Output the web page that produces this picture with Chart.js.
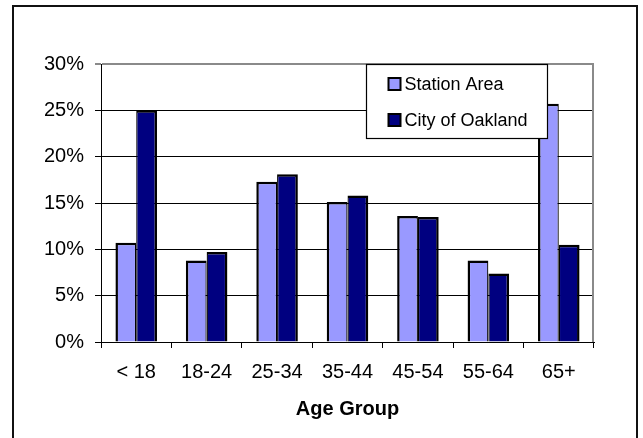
<!DOCTYPE html>
<html>
<head>
<meta charset="utf-8">
<script src="https://cdn.jsdelivr.net/npm/chart.js@4/dist/chart.umd.min.js"></script>
<style>
  html, body { margin: 0; padding: 0; background: #fff; overflow: hidden; }
  #wrap { position: relative; width: 643px; height: 438px; }
  #chart { position: absolute; left: 0; top: 0; display: block; }
  #frame {
    position: absolute; left: 12px; top: 5px; width: 622px; height: 460px;
    border: 2px solid #111; pointer-events: none;
  }
</style>
</head>
<body>
<div id="wrap">
  <canvas id="chart" width="643" height="438"></canvas>
  <div id="frame"></div>
</div>
<script>
// Share of residents by age group
const ageGroups = ['< 18', '18-24', '25-34', '35-44', '45-54', '55-64', '65+'];
const stationArea = [10.7, 8.8, 17.3, 15.1, 13.6, 8.8, 25.7];
const cityOfOakland = [25.0, 9.7, 18.1, 15.8, 13.5, 7.4, 10.5];
const seriesNames = ['Station Area', 'City of Oakland'];
const yTickValues = [0, 5, 10, 15, 20, 25, 30];

const FONT = "'Liberation Sans', Arial, sans-serif";
const LIGHT = '#9999ff';
const DARK = '#000080';

// Boxed legend drawn inside the plot, on top of the bars
const boxLegend = {
  id: 'boxLegend',
  afterDatasetsDraw(chart) {
    const { ctx, chartArea: a } = chart;
    const w = a.right - a.left;
    const x0 = Math.round(a.left + w * 0.5375) + 0.5;
    const x1 = Math.round(a.left + w * 0.905) + 0.5;
    const y0 = a.top + 0.5;
    const y1 = a.top + 74.5;
    ctx.save();
    ctx.fillStyle = '#fff';
    ctx.fillRect(x0, y0, x1 - x0, y1 - y0);
    ctx.strokeStyle = '#000';
    ctx.lineWidth = 1.2;
    ctx.strokeRect(x0, y0, x1 - x0, y1 - y0);
    ctx.font = '18px ' + FONT;
    ctx.textBaseline = 'middle';
    ctx.textAlign = 'left';
    chart.data.datasets.forEach((ds, i) => {
      const cy = a.top + 20 + i * 36;
      const mx = x0 + 21;
      ctx.fillStyle = '#000';
      ctx.fillRect(mx, cy - 7, 14, 14);
      ctx.fillStyle = ds.backgroundColor;
      ctx.fillRect(mx + 2, cy - 5, 10, 10);
      ctx.fillStyle = '#000';
      ctx.fillText(ds.label, mx + 17, cy + 1);
    });
    ctx.restore();
  }
};

// Grey right edge of the plot area
const plotEdge = {
  id: 'plotEdge',
  beforeDatasetsDraw(chart) {
    const { ctx, chartArea: a } = chart;
    ctx.save();
    ctx.strokeStyle = '#8a8a8a';
    ctx.lineWidth = 2;
    ctx.beginPath();
    ctx.moveTo(a.right - 1, a.top - 1);
    ctx.lineTo(a.right - 1, a.bottom);
    ctx.stroke();
    ctx.restore();
  }
};

new Chart(document.getElementById('chart'), {
  type: 'bar',
  data: {
    labels: ageGroups,
    datasets: [
      {
        label: seriesNames[0],
        data: stationArea,
        backgroundColor: LIGHT,
        borderColor: '#000',
        borderWidth: { top: 2.5, left: 2.5, right: 1.25, bottom: 0 },
        categoryPercentage: 0.59,
        barPercentage: 1.0
      },
      {
        label: seriesNames[1],
        data: cityOfOakland,
        backgroundColor: DARK,
        borderColor: '#000',
        borderWidth: { top: 2.5, left: 1.25, right: 2.5, bottom: 0 },
        categoryPercentage: 0.59,
        barPercentage: 1.0
      }
    ]
  },
  options: {
    responsive: false,
    animation: false,
    devicePixelRatio: 1,
    layout: { padding: { top: 64, right: 49, bottom: 17, left: 0 } },
    plugins: {
      legend: { display: false },
      tooltip: { enabled: false }
    },
    scales: {
      x: {
        afterFit(scale) { scale.height = 79; },
        grid: {
          offset: true,
          drawOnChartArea: false,
          drawTicks: true,
          tickLength: 6,
          color: '#000'
        },
        border: { display: true, color: '#000', width: 1 },
        ticks: {
          color: '#000',
          padding: 12,
          font: { family: FONT, size: 20 }
        },
        title: {
          display: true,
          text: 'Age Group',
          color: '#000',
          padding: 0,
          font: { family: FONT, size: 20, weight: 'bold' }
        }
      },
      y: {
        min: 0,
        max: 30,
        afterFit(scale) { scale.width = 101; },
        afterBuildTicks(scale) { scale.ticks = yTickValues.map(v => ({ value: v })); },
        grid: {
          color: ctx => (ctx.tick && ctx.tick.value === 30 ? '#8a8a8a' : '#000'),
          lineWidth: ctx => (ctx.tick && ctx.tick.value === 30 ? 2 : 1),
          tickLength: 6
        },
        border: { display: true, color: '#000', width: 1 },
        ticks: {
          color: '#000',
          padding: 11,
          font: { family: FONT, size: 20 },
          callback: v => v + '%'
        }
      }
    }
  },
  plugins: [plotEdge, boxLegend]
});
</script>
</body>
</html>
